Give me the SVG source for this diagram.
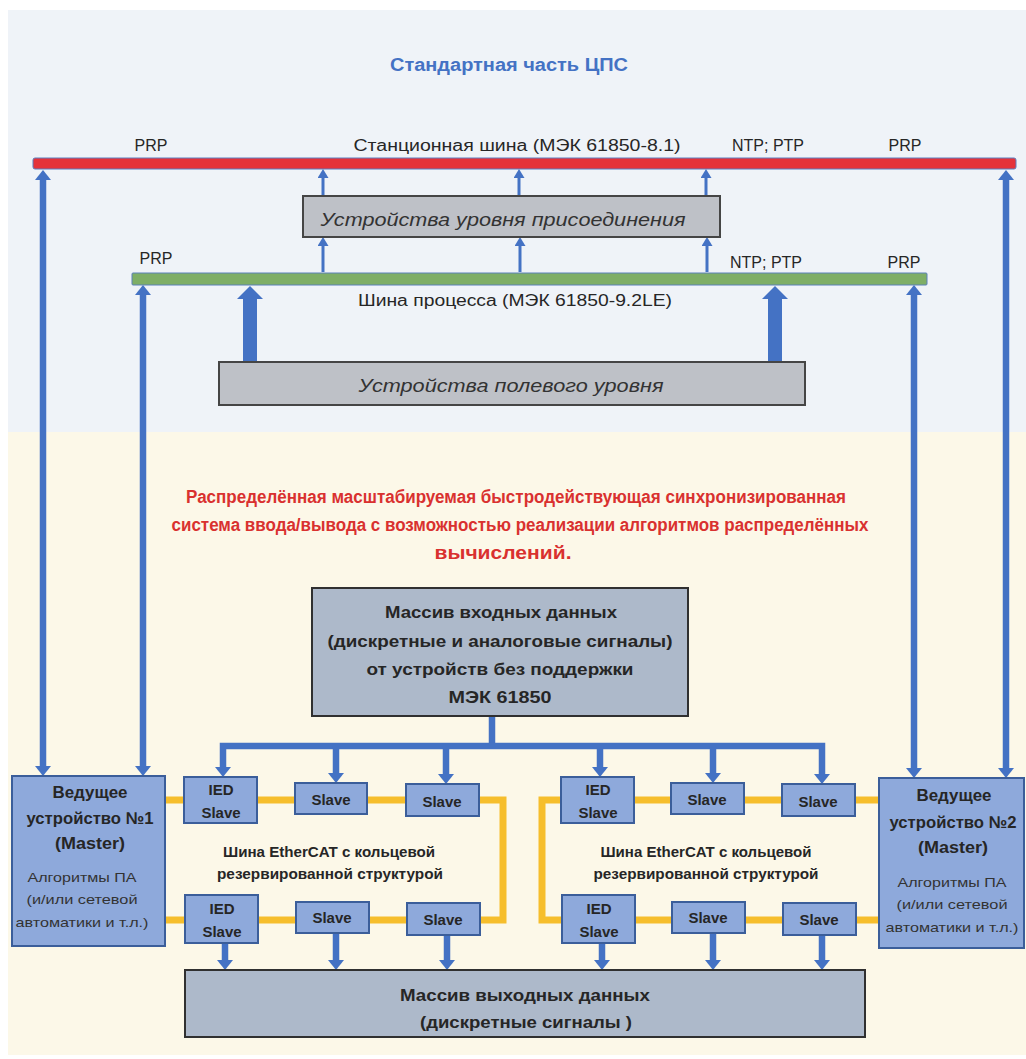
<svg xmlns="http://www.w3.org/2000/svg" width="1026" height="1059" viewBox="0 0 1026 1059">
<defs>
<style>
text{font-family:"Liberation Sans",Arial,sans-serif;dominant-baseline:central;text-anchor:middle;fill:#262626}
.lbl{font-size:16px}
.title{font-size:18px;font-weight:bold;fill:#4472C4}
.red{font-size:18px;font-weight:bold;fill:#D9312F}
.it{font-size:19px;font-style:italic;fill:#333}
.bx{font-size:17px;font-weight:bold}
.ms{font-size:17px;font-weight:bold}
.mss{font-size:13.5px;fill:#333}
.sl{font-size:15px;font-weight:bold}
.eth{font-size:15px;font-weight:bold}
.gray{fill:#BEC1C7;stroke:#454545;stroke-width:2}
.data{fill:#ADB9CA;stroke:#303030;stroke-width:2}
.blue{fill:#8EA9DB;stroke:#3B5E9A;stroke-width:2}
.a3{stroke:#4472C4;stroke-width:3;fill:none}
.a6{stroke:#4472C4;stroke-width:6.5;fill:none}
.a14{stroke:#4472C4;stroke-width:14;fill:none}
.yl{stroke:#F6BE2C;stroke-width:7;fill:none}
</style>
<marker id="hS" viewBox="0 0 10 10" refX="0" refY="5" markerUnits="userSpaceOnUse" markerWidth="9" markerHeight="11" orient="auto-start-reverse" preserveAspectRatio="none"><path d="M0,0L10,5L0,10z" fill="#4472C4"/></marker>
<marker id="hM" viewBox="0 0 10 10" refX="0" refY="5" markerUnits="userSpaceOnUse" markerWidth="10" markerHeight="16" orient="auto-start-reverse" preserveAspectRatio="none"><path d="M0,0L10,5L0,10z" fill="#4472C4"/></marker>
<marker id="hL" viewBox="0 0 10 10" refX="0" refY="5" markerUnits="userSpaceOnUse" markerWidth="13" markerHeight="26" orient="auto-start-reverse" preserveAspectRatio="none"><path d="M0,0L10,5L0,10z" fill="#4472C4"/></marker>
</defs>

<g id="background">
<rect x="8" y="10" width="1018" height="422" fill="#EFF3F8"/>
<rect x="8" y="432" width="1018" height="623" fill="#FCF8E8"/>
</g>

<g id="title"><text class="title" x="509" y="65" textLength="238" lengthAdjust="spacingAndGlyphs">Стандартная часть ЦПС</text></g>

<g id="connectors">
<!-- station level small arrows -->
<line class="a3" x1="323" y1="196" x2="323" y2="178" marker-end="url(#hS)"/>
<line class="a3" x1="519" y1="196" x2="519" y2="178" marker-end="url(#hS)"/>
<line class="a3" x1="706" y1="196" x2="706" y2="178" marker-end="url(#hS)"/>
<line class="a3" x1="323" y1="272" x2="323" y2="246" marker-end="url(#hS)"/>
<line class="a3" x1="520" y1="272" x2="520" y2="246" marker-end="url(#hS)"/>
<line class="a3" x1="707" y1="272" x2="707" y2="246" marker-end="url(#hS)"/>
<!-- field level thick arrows -->
<line class="a14" x1="250" y1="362" x2="250" y2="299" marker-end="url(#hL)"/>
<line class="a14" x1="775" y1="362" x2="775" y2="299" marker-end="url(#hL)"/>
<!-- long double arrows -->
<line class="a6" x1="43" y1="180" x2="43" y2="766" marker-start="url(#hM)" marker-end="url(#hM)"/>
<line class="a6" x1="143" y1="295" x2="143" y2="766" marker-start="url(#hM)" marker-end="url(#hM)"/>
<line class="a6" x1="914" y1="295" x2="914" y2="768" marker-start="url(#hM)" marker-end="url(#hM)"/>
<line class="a6" x1="1006" y1="180" x2="1006" y2="768" marker-start="url(#hM)" marker-end="url(#hM)"/>
<!-- input data bus -->
<line class="a6" x1="492" y1="716" x2="492" y2="746"/>
<path class="a6" d="M223,767V746H822V774" marker-start="url(#hM)" marker-end="url(#hM)"/>
<line class="a6" x1="336" y1="746" x2="336" y2="773" marker-end="url(#hM)"/>
<line class="a6" x1="446" y1="746" x2="446" y2="774" marker-end="url(#hM)"/>
<line class="a6" x1="600" y1="746" x2="600" y2="767" marker-end="url(#hM)"/>
<line class="a6" x1="713" y1="746" x2="713" y2="773" marker-end="url(#hM)"/>
<!-- output arrows -->
<line class="a6" x1="225" y1="943" x2="225" y2="960" marker-end="url(#hM)"/>
<line class="a6" x1="336" y1="933" x2="336" y2="960" marker-end="url(#hM)"/>
<line class="a6" x1="447" y1="935" x2="447" y2="960" marker-end="url(#hM)"/>
<line class="a6" x1="602" y1="943" x2="602" y2="960" marker-end="url(#hM)"/>
<line class="a6" x1="713" y1="933" x2="713" y2="960" marker-end="url(#hM)"/>
<line class="a6" x1="822" y1="935" x2="822" y2="960" marker-end="url(#hM)"/>
<!-- EtherCAT rings -->
<path class="yl" d="M165,800H503V920H165"/>
<path class="yl" d="M879,800H542V920H879"/>
</g>

<g id="station-bus">
<rect x="33" y="158" width="983" height="11" rx="2" fill="#E5333A" stroke="#5B7FC0" stroke-width="1"/>
<text class="lbl" x="151" y="145">PRP</text>
<text class="lbl" x="517" y="145" textLength="327" lengthAdjust="spacingAndGlyphs">Станционная шина (МЭК 61850-8.1)</text>
<text class="lbl" x="768" y="145">NTP; PTP</text>
<text class="lbl" x="905" y="145">PRP</text>
</g>

<g id="bay-devices">
<rect class="gray" x="303" y="196" width="417" height="41"/>
<text class="it" x="503" y="219" textLength="365" lengthAdjust="spacingAndGlyphs">Устройства уровня присоединения</text>
</g>

<g id="process-bus">
<rect x="132" y="273" width="795" height="12" rx="1" fill="#7EAE66" stroke="#5A80B8" stroke-width="1"/>
<text class="lbl" x="156" y="258">PRP</text>
<text class="lbl" x="766" y="262">NTP; PTP</text>
<text class="lbl" x="904" y="262">PRP</text>
<text class="lbl" x="515" y="300" textLength="314" lengthAdjust="spacingAndGlyphs">Шина процесса (МЭК 61850-9.2LE)</text>
</g>

<g id="field-devices">
<rect class="gray" x="219" y="362" width="586" height="43"/>
<text class="it" x="511" y="385" textLength="305" lengthAdjust="spacingAndGlyphs">Устройства полевого уровня</text>
</g>

<g id="distributed-caption">
<text class="red" x="516" y="497" textLength="660" lengthAdjust="spacingAndGlyphs">Распределённая масштабируемая быстродействующая синхронизированная</text>
<text class="red" x="520" y="525" textLength="697" lengthAdjust="spacingAndGlyphs">система ввода/вывода с возможностью реализации алгоритмов распределённых</text>
<text class="red" x="503" y="553" textLength="137" lengthAdjust="spacingAndGlyphs">вычислений.</text>
</g>

<g id="input-data">
<rect class="data" x="312" y="588" width="376" height="128"/>
<text class="bx" x="501" y="612" textLength="232" lengthAdjust="spacingAndGlyphs">Массив входных данных</text>
<text class="bx" x="500" y="641" textLength="345" lengthAdjust="spacingAndGlyphs">(дискретные и аналоговые сигналы)</text>
<text class="bx" x="500" y="669" textLength="267" lengthAdjust="spacingAndGlyphs">от устройств без поддержки</text>
<text class="bx" x="500" y="697" textLength="103" lengthAdjust="spacingAndGlyphs">МЭК 61850</text>
</g>

<g id="master1">
<rect class="blue" x="12" y="776" width="153" height="170"/>
<text class="ms" x="90" y="792" textLength="75" lengthAdjust="spacingAndGlyphs">Ведущее</text>
<text class="ms" x="90" y="818" textLength="127" lengthAdjust="spacingAndGlyphs">устройство №1</text>
<text class="ms" x="90" y="843" textLength="70" lengthAdjust="spacingAndGlyphs">(Master)</text>
<text class="mss" x="82" y="877" textLength="109" lengthAdjust="spacingAndGlyphs">Алгоритмы ПА</text>
<text class="mss" x="82" y="899" textLength="111" lengthAdjust="spacingAndGlyphs">(и/или сетевой</text>
<text class="mss" x="82" y="922" textLength="133" lengthAdjust="spacingAndGlyphs">автоматики и т.л.)</text>
</g>

<g id="master2">
<rect class="blue" x="879" y="778" width="145" height="170"/>
<text class="ms" x="954" y="795" textLength="75" lengthAdjust="spacingAndGlyphs">Ведущее</text>
<text class="ms" x="953" y="822" textLength="127" lengthAdjust="spacingAndGlyphs">устройство №2</text>
<text class="ms" x="953" y="847" textLength="70" lengthAdjust="spacingAndGlyphs">(Master)</text>
<text class="mss" x="952" y="882" textLength="109" lengthAdjust="spacingAndGlyphs">Алгоритмы ПА</text>
<text class="mss" x="952" y="904" textLength="111" lengthAdjust="spacingAndGlyphs">(и/или сетевой</text>
<text class="mss" x="952" y="927" textLength="133" lengthAdjust="spacingAndGlyphs">автоматики и т.л.)</text>
</g>

<g id="slave-L1"><rect class="blue" x="184" y="777" width="73" height="46"/><text class="sl" x="221" y="789">IED</text><text class="sl" x="221" y="812">Slave</text></g>
<g id="slave-L2"><rect class="blue" x="295" y="783" width="72" height="31"/><text class="sl" x="331" y="799">Slave</text></g>
<g id="slave-L3"><rect class="blue" x="406" y="784" width="73" height="32"/><text class="sl" x="442" y="801">Slave</text></g>
<g id="slave-L4"><rect class="blue" x="185" y="895" width="73" height="48"/><text class="sl" x="222" y="908">IED</text><text class="sl" x="222" y="931">Slave</text></g>
<g id="slave-L5"><rect class="blue" x="296" y="902" width="73" height="31"/><text class="sl" x="332" y="917">Slave</text></g>
<g id="slave-L6"><rect class="blue" x="407" y="903" width="73" height="32"/><text class="sl" x="443" y="919">Slave</text></g>

<g id="slave-R1"><rect class="blue" x="561" y="777" width="73" height="46"/><text class="sl" x="598" y="789">IED</text><text class="sl" x="598" y="812">Slave</text></g>
<g id="slave-R2"><rect class="blue" x="671" y="783" width="73" height="31"/><text class="sl" x="707" y="799">Slave</text></g>
<g id="slave-R3"><rect class="blue" x="782" y="784" width="73" height="32"/><text class="sl" x="818" y="801">Slave</text></g>
<g id="slave-R4"><rect class="blue" x="562" y="895" width="73" height="48"/><text class="sl" x="599" y="908">IED</text><text class="sl" x="599" y="931">Slave</text></g>
<g id="slave-R5"><rect class="blue" x="672" y="902" width="73" height="31"/><text class="sl" x="708" y="917">Slave</text></g>
<g id="slave-R6"><rect class="blue" x="783" y="903" width="73" height="32"/><text class="sl" x="819" y="919">Slave</text></g>

<g id="ethercat-labels">
<text class="eth" x="329" y="851" textLength="212" lengthAdjust="spacingAndGlyphs">Шина EtherCAT с кольцевой</text>
<text class="eth" x="330" y="873" textLength="226" lengthAdjust="spacingAndGlyphs">резервированной структурой</text>
<text class="eth" x="706" y="851" textLength="211" lengthAdjust="spacingAndGlyphs">Шина EtherCAT с кольцевой</text>
<text class="eth" x="706" y="873" textLength="225" lengthAdjust="spacingAndGlyphs">резервированной структурой</text>
</g>

<g id="output-data">
<rect class="data" x="185" y="970" width="680" height="67"/>
<text class="bx" x="525" y="995" textLength="250" lengthAdjust="spacingAndGlyphs">Массив выходных данных</text>
<text class="bx" x="526" y="1022" textLength="212" lengthAdjust="spacingAndGlyphs">(дискретные сигналы )</text>
</g>
</svg>
